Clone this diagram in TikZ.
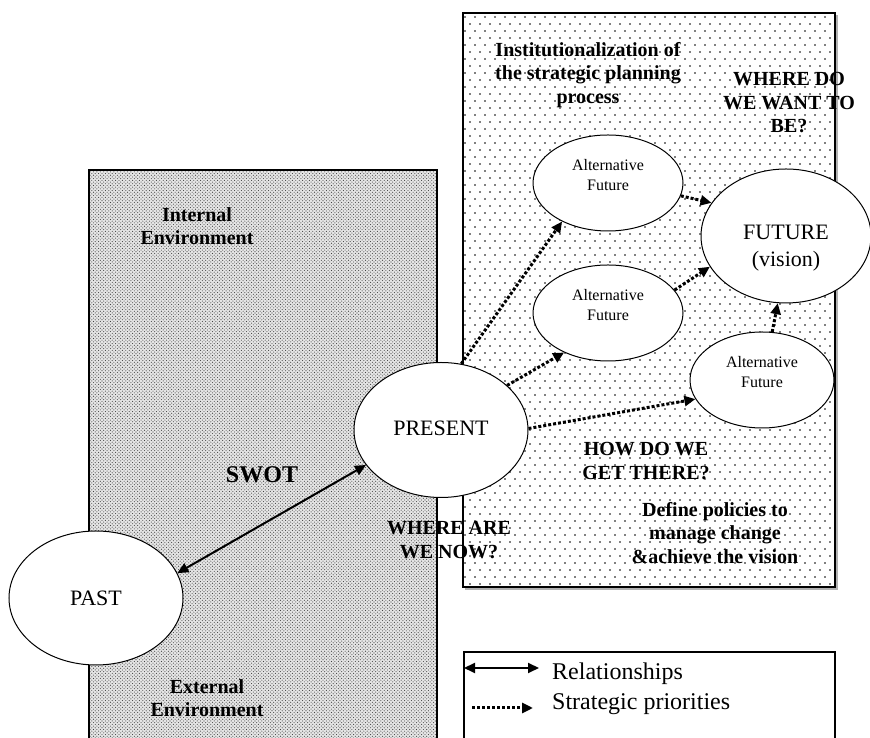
\documentclass[tikz,border=0pt]{standalone}
\usepackage{fontspec}
\setmainfont{Liberation Serif}
\usetikzlibrary{shapes.geometric,arrows.meta,patterns}

\pgfdeclarepatternformonly{finedots}{\pgfqpoint{-1pt}{-1pt}}{\pgfqpoint{3pt}{3pt}}{\pgfqpoint{3.4pt}{3.4pt}}{%
  \pgfpathcircle{\pgfqpoint{0pt}{0pt}}{0.55pt}%
  \pgfpathcircle{\pgfqpoint{1.7pt}{1.7pt}}{0.55pt}%
  \pgfusepath{fill}}
\pgfdeclarepatternformonly{sparsedots}{\pgfqpoint{-1pt}{-1pt}}{\pgfqpoint{6pt}{8pt}}{\pgfqpoint{10pt}{14pt}}{%
  \pgfpathcircle{\pgfqpoint{0pt}{0pt}}{0.8pt}%
  \pgfpathcircle{\pgfqpoint{5pt}{7pt}}{0.8pt}%
  \pgfusepath{fill}}

\definecolor{boxGray}{rgb}{0.9,0.9,0.9}
\definecolor{dotColor}{rgb}{0.25,0.25,0.25}

\begin{document}
\begin{tikzpicture}[x=1pt,y=1pt,
  bubble/.style={ellipse,draw=black,line width=1pt,fill=white,inner sep=0pt},
  bubbletext/.style={align=center,inner sep=0pt},
  boldtext/.style={align=center,inner sep=0pt,font=\fontsize{20}{23.5}\selectfont\bfseries},
  legendtext/.style={anchor=west,inner sep=0pt,font=\fontsize{24}{28}\selectfont},
  relarrow/.style={{Triangle[length=11pt,width=10pt]}-{Triangle[length=11pt,width=10pt]},line width=2pt},
  prioarrow/.style={-{Triangle[length=11pt,width=10pt]},line width=3pt,dash pattern=on 3pt off 2pt}]
\path[use as bounding box,fill=white] (0,0) rectangle (870,738);
\clip (0,0) rectangle (870,738);

% environment box and planning box
\path[fill=boxGray] (89,-5) rectangle (437,568);
\path[pattern=finedots,pattern color=dotColor] (89,-5) rectangle (437,568);
\draw[line width=1.4pt] (89,-5) rectangle (437,568);

\draw[gray!60,line width=1.2pt] (465,149) -- (837,149) -- (837,723);
\path[pattern=sparsedots,pattern color=black] (463,151) rectangle (835,725);
\draw[line width=1.6pt] (463,151) rectangle (835,725);

% legend box
\draw[line width=1.3pt] (464,-5) rectangle (835,86);

% ellipses
\node[bubble,minimum width=174pt,minimum height=134pt,font=\fontsize{22}{26}\selectfont] (past) at (96,140) {PAST};
\node[bubble,minimum width=174pt,minimum height=135pt,font=\fontsize{22}{26}\selectfont] (present) at (441,308) {\raisebox{3pt}{PRESENT}};
\node[bubble,minimum width=170pt,minimum height=134pt] (future) at (786,502) {};
\node[bubble,minimum width=150pt,minimum height=96pt] (alt1) at (608,555) {};
\node[bubble,minimum width=150pt,minimum height=96pt] (alt2) at (608,425) {};
\node[bubble,minimum width=144pt,minimum height=96pt] (alt3) at (762,358) {};

\node[bubbletext,font=\fontsize{22}{27}\selectfont] (futuretxt) at ([yshift=-12pt]future.center) {FUTURE\\(vision)};
\node[bubbletext,font=\fontsize{16}{20}\selectfont] (alt1txt) at ([yshift=8pt]alt1.center) {Alternative\\Future};
\node[bubbletext,font=\fontsize{16}{20}\selectfont] (alt2txt) at ([yshift=8pt]alt2.center) {Alternative\\Future};
\node[bubbletext,font=\fontsize{16}{20}\selectfont] (alt3txt) at ([yshift=8pt]alt3.center) {Alternative\\Future};

% connectors
\draw[relarrow] (past.17) -- (present.205);
\draw[prioarrow] (present.73) -- (alt1.220);
\draw[prioarrow] (present.34) -- (alt2.222);
\draw[prioarrow] (present.1) -- (alt3.196);
\draw[prioarrow] (alt1.350) -- (future.156);
\draw[prioarrow] (alt2.19) -- (future.202);
\draw[prioarrow] (alt3.78) -- (future.263);

% bold captions
\node[boldtext] (institution) at (588,663) {Institutionalization of\\the strategic planning\\process};
\node[boldtext] (wantbe) at (789,635) {WHERE DO\\WE WANT TO\\BE?};
\node[boldtext] (internal) at (197,512) {Internal\\Environment};
\node[boldtext] (external) at (207,40) {External\\Environment};
\node[boldtext,font=\fontsize{24}{28}\selectfont\bfseries] (swot) at (262,263) {SWOT};
\node[boldtext] (wherenow) at (449,198) {WHERE ARE\\WE NOW?};
\node[boldtext] (howget) at (646,277) {HOW DO WE\\GET THERE?};
\node[boldtext] (policies) at (715,205) {Define policies to\\manage change\\\&achieve the vision};

% legend entries
\coordinate (relA) at (464,70);
\coordinate (relB) at (539,70);
\draw[relarrow] (relA) -- (relB);
\node[legendtext] (reltxt) at (552,64) {Relationships};
\coordinate (prioA) at (472,30);
\coordinate (prioB) at (533,30);
\draw[prioarrow] (prioA) -- (prioB);
\node[legendtext] (priotxt) at (552,34) {Strategic priorities};
\end{tikzpicture}
\end{document}
